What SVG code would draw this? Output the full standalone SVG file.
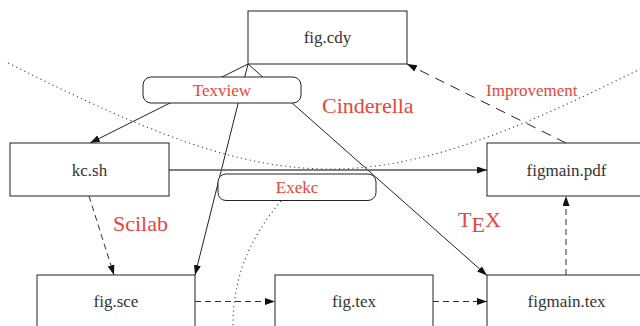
<svg xmlns="http://www.w3.org/2000/svg" width="640" height="326" viewBox="0 0 640 326">
  <style>
    .box { fill: #ffffff; stroke: #222222; stroke-width: 1; }
    .pill { fill: #ffffff; stroke: #222222; stroke-width: 1; }
    .lbl { font-size: 17px; fill: #333333; text-anchor: middle; }
    .red { fill: #e8453c; }
    .small { font-size: 17px; }
    .big { font-size: 22px; }
    .solid { fill: none; stroke: #222222; stroke-width: 1; }
    .dash { fill: none; stroke: #333333; stroke-width: 1; stroke-dasharray: 6 4; }
    .longdash { fill: none; stroke: #222222; stroke-width: 1; stroke-dasharray: 10 7; }
    .dot { fill: none; stroke: #444444; stroke-width: 1.1; stroke-dasharray: 1.2 3.3; }
  </style>
  <defs>
    <marker id="arrow" viewBox="0 0 10 7" refX="10" refY="3.5" markerWidth="10" markerHeight="7" markerUnits="userSpaceOnUse" orient="auto">
      <path d="M0,0 L10,3.5 L0,7 Z" fill="#111111"/>
    </marker>
  </defs>

  <rect width="640" height="326" fill="#ffffff"/>

  <!-- dotted region boundaries -->
  <g id="regions">
    <path class="dot" d="M8,63 C284,201 366,206 642,68"/>
    <path class="dot" d="M281,201 C255,232 233,270 233,326"/>
  </g>

  <g id="connectors">
    <!-- fan-out from fig.cdy -->
    <line class="solid" x1="248" y1="64" x2="90" y2="143" marker-end="url(#arrow)"/>
    <line class="solid" x1="248" y1="64" x2="195" y2="275" marker-end="url(#arrow)"/>
    <line class="solid" x1="248" y1="64" x2="487" y2="275.5" marker-end="url(#arrow)"/>
    <!-- kc.sh to figmain.pdf -->
    <line x1="169" y1="170" x2="487" y2="170" stroke="#555555" stroke-width="1.3" marker-end="url(#arrow)"/>
    <!-- dashed pipeline -->
    <line class="dash" x1="89" y1="196" x2="114" y2="275" marker-end="url(#arrow)"/>
    <line class="dash" x1="195" y1="301.5" x2="275" y2="301.5" marker-end="url(#arrow)"/>
    <line class="dash" x1="433" y1="301.5" x2="487" y2="301.5" marker-end="url(#arrow)"/>
    <line class="dash" x1="566" y1="275" x2="566" y2="196" marker-end="url(#arrow)"/>
    <!-- feedback -->
    <line class="longdash" x1="566" y1="143" x2="407" y2="64" marker-end="url(#arrow)"/>
  </g>

  <g font-family="Liberation Serif, DejaVu Serif, serif">
  <g id="fig-cdy">
    <rect class="box" x="248" y="11" width="159" height="53"/>
    <text class="lbl" x="327.5" y="42.5">fig.cdy</text>
  </g>
  <g id="kc-sh">
    <rect class="box" x="10" y="143" width="159" height="53"/>
    <text class="lbl" x="89.5" y="175.5">kc.sh</text>
  </g>
  <g id="figmain-pdf">
    <rect class="box" x="487" y="143" width="159" height="53"/>
    <text class="lbl" x="566.5" y="175.5">figmain.pdf</text>
  </g>
  <g id="fig-sce">
    <rect class="box" x="37" y="275" width="158" height="53"/>
    <text class="lbl" x="116" y="307">fig.sce</text>
  </g>
  <g id="fig-tex">
    <rect class="box" x="275" y="275" width="158" height="53"/>
    <text class="lbl" x="354" y="307">fig.tex</text>
  </g>
  <g id="figmain-tex">
    <rect class="box" x="487" y="275" width="159" height="53"/>
    <text class="lbl" x="566.5" y="307">figmain.tex</text>
  </g>

  <g id="texview">
    <rect class="pill" x="143" y="77" width="158" height="26" rx="8"/>
    <text class="red small" x="222" y="96" text-anchor="middle">Texview</text>
  </g>
  <g id="exekc">
    <rect class="pill" x="218" y="174" width="158" height="26.5" rx="8"/>
    <text class="red small" x="297" y="193" text-anchor="middle">Exekc</text>
  </g>

  <g id="labels">
    <text class="red big" x="322" y="113">Cinderella</text>
    <text class="red small" x="486" y="96">Improvement</text>
    <text class="red big" x="113" y="231">Scilab</text>
    <text class="red big" x="458" y="227">T<tspan dx="0" dy="4.5">E</tspan><tspan dx="0" dy="-4.5">X</tspan></text>
  </g>
  </g>
</svg>
